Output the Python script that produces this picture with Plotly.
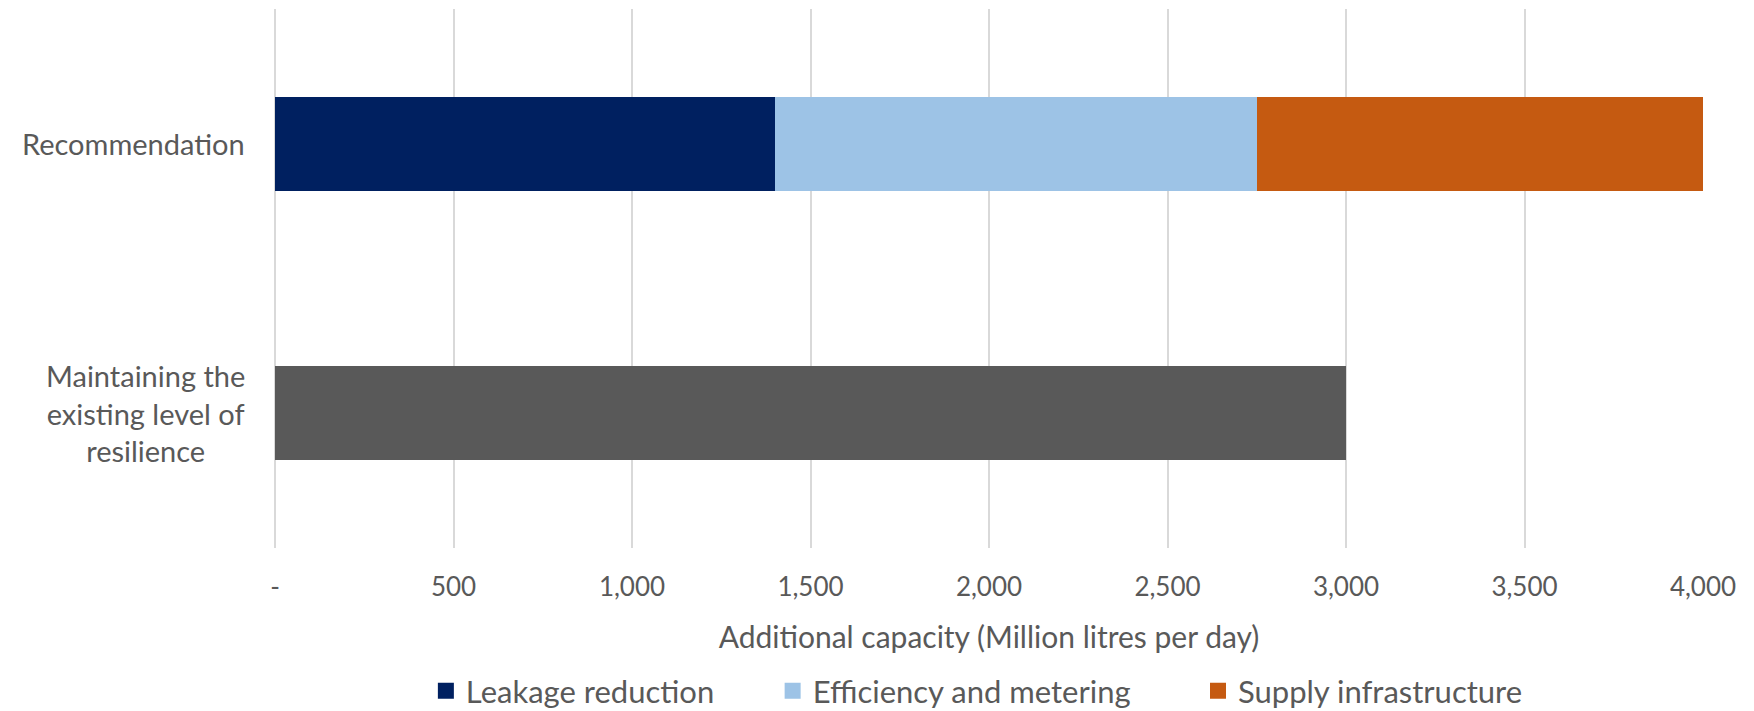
import plotly.graph_objects as go

categories = ["Maintaining the existing level of resilience", "Recommendation"]
cat_lines = ["Maintaining the<br>existing level of<br>resilience", "Recommendation"]

leakage = [None, 1400]
efficiency = [None, 1350]
supply = [None, 1250]
existing = [3000, None]

tick_vals = [0, 500, 1000, 1500, 2000, 2500, 3000, 3500, 4000]
tick_text = ["-", "500", "1,000", "1,500", "2,000", "2,500", "3,000", "3,500", "4,000"]

FONT = "Lato"
GREY_TXT = "#595959"
GRID = "#D9D9D9"

series = [
    ("Leakage reduction", leakage, "#002060", "legend", 0.2428),
    ("Efficiency and metering", efficiency, "#9DC3E6", "legend2", 0.4405),
    ("Supply infrastructure", supply, "#C55A11", "legend3", 0.6830),
]

fig = go.Figure()
for name, vals, color, leg, _ in series:
    fig.add_bar(y=categories, x=vals, orientation="h", name=name, showlegend=False,
                marker=dict(color=color, line=dict(width=0)))
fig.add_bar(y=categories, x=existing, orientation="h", name="Existing", showlegend=False,
            marker=dict(color="#595959", line=dict(width=0)))

# legend keys: larger square swatches, one legend box per series
for name, vals, color, leg, _ in series:
    fig.add_scatter(x=[None], y=[None], mode="markers", name=name, legend=leg,
                    marker=dict(symbol="square", size=19, color=color),
                    showlegend=True, hoverinfo="skip")

for cat, label in zip(categories, cat_lines):
    fig.add_annotation(x=0, xref="paper", xanchor="right", xshift=-28,
                       y=cat, yref="y", yanchor="middle",
                       text=label, showarrow=False, align="center",
                       font=dict(family=FONT, size=29, color=GREY_TXT))

legend_style = dict(orientation="h", xanchor="left", xref="container",
                    y=0.028, yanchor="middle", yref="container",
                    font=dict(family=FONT, size=31, color=GREY_TXT),
                    bgcolor="rgba(0,0,0,0)", borderwidth=0)

fig.update_layout(
    barmode="stack",
    bargap=0.65,
    width=1754, height=711,
    margin=dict(l=275, r=51, t=9, b=163, autoexpand=False),
    plot_bgcolor="white", paper_bgcolor="white",
    font=dict(family=FONT, size=26, color=GREY_TXT),
    legend=dict(x=series[0][4], **legend_style),
    legend2=dict(x=series[1][4], **legend_style),
    legend3=dict(x=series[2][4], **legend_style),
    xaxis=dict(range=[0, 4000], tickvals=tick_vals, ticktext=tick_text,
               showgrid=True, gridcolor=GRID, gridwidth=2,
               zeroline=True, zerolinecolor=GRID, zerolinewidth=2, showline=False,
               ticks="outside", ticklen=16, tickcolor="rgba(0,0,0,0)",
               tickfont=dict(family=FONT, size=26, color=GREY_TXT),
               title=dict(text="Additional capacity (Million litres per day)",
                          font=dict(family=FONT, size=30, color=GREY_TXT), standoff=25)),
    yaxis=dict(categoryorder="array", categoryarray=categories,
               range=[-0.5, 1.5], showticklabels=False, showgrid=False,
               zeroline=False, showline=False),
)

fig.write_html("out.html")
